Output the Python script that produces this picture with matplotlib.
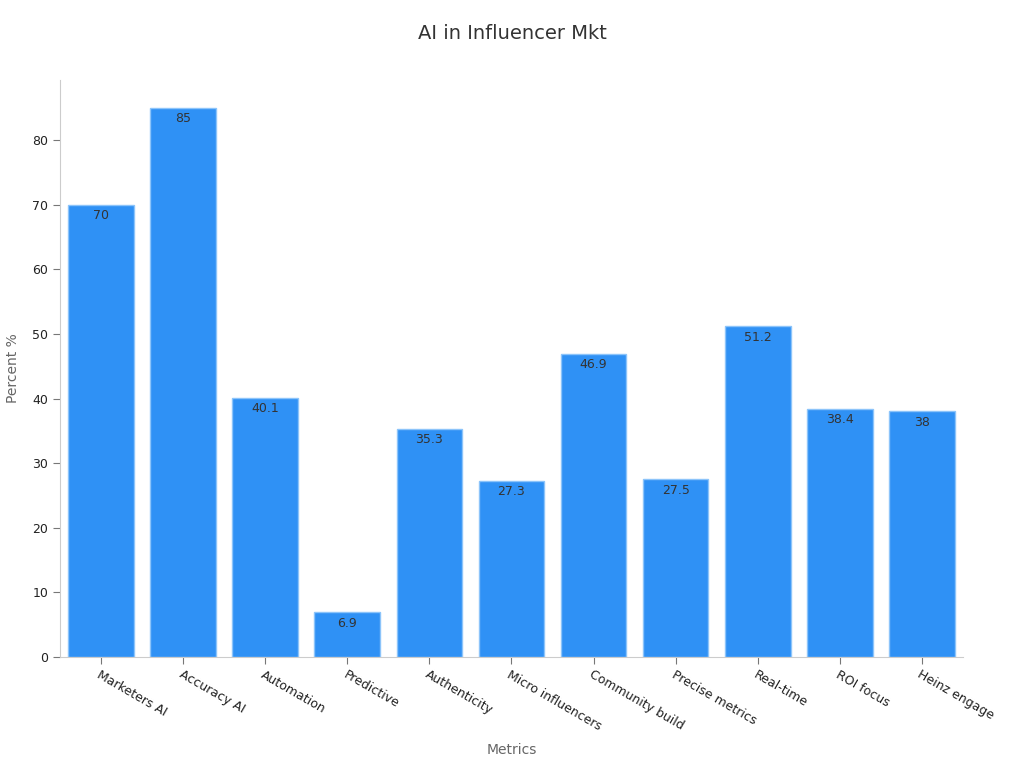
import matplotlib
matplotlib.use("Agg")
import matplotlib.pyplot as plt

categories = ["Marketers AI", "Accuracy AI", "Automation", "Predictive", "Authenticity",
              "Micro influencers", "Community build", "Precise metrics", "Real-time",
              "ROI focus", "Heinz engage"]
values = [70, 85, 40.1, 6.9, 35.3, 27.3, 46.9, 27.5, 51.2, 38.4, 38]
value_labels = ["70", "85", "40.1", "6.9", "35.3", "27.3", "46.9", "27.5", "51.2", "38.4", "38"]

fig = plt.figure(figsize=(10.24, 7.68), dpi=100)
ax = fig.add_axes([0.0586, 0.1445, 0.8818, 0.7515])

x = range(len(categories))
bars = ax.bar(x, values, width=0.8, color="#2f91f5", edgecolor="#8cc4fa", linewidth=1)

for b, lab in zip(bars, value_labels):
    ax.text(b.get_x() + b.get_width() / 2, b.get_height() - 0.7, lab,
            ha="center", va="top", fontsize=9, color="#333333")

ax.set_xlim(-0.5, 10.5)
ax.set_ylim(0, 89.3)
ax.set_yticks(range(0, 90, 10))
ax.set_xticks(list(x))
ax.set_xticklabels(categories, rotation=-30, ha="left", rotation_mode="anchor",
                   fontsize=9, color="#222222")
ax.tick_params(axis="y", labelsize=9, labelcolor="#222222", color="#777777", length=5)
ax.tick_params(axis="x", color="#777777", length=5, pad=3)

for s in ["top", "right"]:
    ax.spines[s].set_visible(False)
for s in ["left", "bottom"]:
    ax.spines[s].set_color("#cccccc")

fig.text(0.5, 1 - 750 / 768, "Metrics", ha="center", va="center",
         fontsize=10, color="#666666")
fig.text(13 / 1024, 1 - 368 / 768, "Percent %", ha="center", va="center",
         rotation=90, fontsize=10, color="#666666")
fig.text(0.5, 0.957, "AI in Influencer Mkt", ha="center", va="center",
         fontsize=14, color="#333333")

fig.savefig("out.png", dpi=100)
